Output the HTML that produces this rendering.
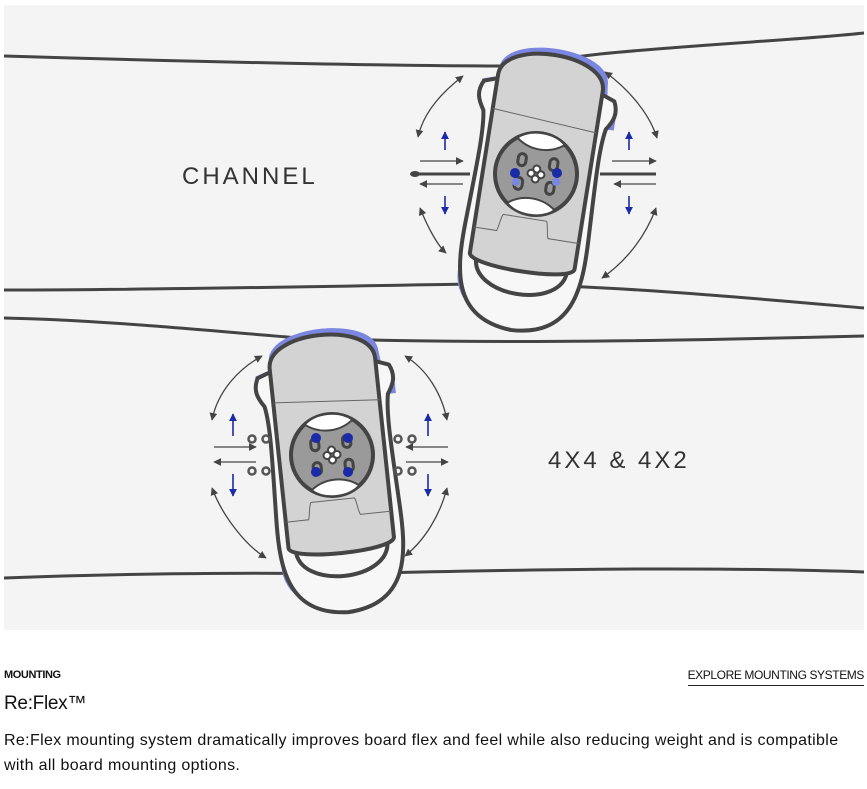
<!DOCTYPE html>
<html><head><meta charset="utf-8"><style>
body{margin:0;background:#fff;width:867px;height:789px;overflow:hidden;font-family:"Liberation Sans",sans-serif;color:#111}
.t1{position:absolute;left:4px;top:669px;font-size:11px;font-weight:bold;letter-spacing:-0.4px}
.t2{position:absolute;right:3px;top:668px;font-size:12px;border-bottom:1px solid #222;padding-bottom:3px;letter-spacing:-0.4px}
.t3{position:absolute;left:4px;top:693px;font-size:19px;letter-spacing:-0.3px}
.t4{position:absolute;left:4px;top:728px;font-size:16px;line-height:25px;width:860px;letter-spacing:0.35px}
</style></head><body>
<svg width="867" height="640" style="position:absolute;left:0;top:0">
<defs>
<marker id="ah" viewBox="0 0 10 10" refX="9" refY="5" markerWidth="6" markerHeight="6" orient="auto-start-reverse"><path d="M0,0L10,5L0,10z" fill="#444"/></marker>
<marker id="bh" viewBox="0 0 10 10" refX="9" refY="5" markerWidth="5" markerHeight="5" orient="auto"><path d="M0,0L10,5L0,10z" fill="#1a2aa8"/></marker>
<g id="bind">
 <path d="M-55,-95 C-55,-132 55,-132 55,-95 L58,-70 L-58,-70z" fill="#7b86e0" transform="translate(2,-4)"/>
 <path d="M-68,-86 L-55,-90 L-55,-70 L-68,-70z M62,-78 L70,-74 L70,-55 L62,-55z" fill="#7b86e0"/>
 <path d="M-55,100 C-58,160 55,160 52,100" fill="none" stroke="#7b86e0" stroke-width="8" transform="translate(-3,4)"/>
 <path d="M-55,-88 L-66,-84 C-72,-72 -68,-64 -62,-55 C-58,-35 -60,0 -62,55 C-64,105 -62,155 0,158 C62,155 64,105 62,55 C60,0 58,-35 62,-55 C68,-64 72,-72 66,-84 L55,-88 Z" fill="#f7f7f7" stroke="#444" stroke-width="4" stroke-linejoin="round"/>
 <path d="M-46,90 C-48,132 48,132 46,90" fill="#f7f7f7" stroke="#444" stroke-width="4"/>
 <path d="M-53,-92 C-53,-130 53,-130 53,-92 L53,88 C53,102 -53,102 -53,88 Z" fill="#d3d3d3" stroke="#444" stroke-width="4"/>
 <line x1="-53" y1="-58" x2="53" y2="-50" stroke="#666" stroke-width="1"/>
 <path d="M-53,62 L-30,62 C-28,55 -28,48 -26,45 L18,45 C20,50 20,58 22,62 L53,62" fill="none" stroke="#666" stroke-width="1"/>
 <circle cx="0" cy="0" r="41" fill="#9a9a9a" stroke="#444" stroke-width="4"/>
 <path d="M-24,-33 C-10,-22 10,-22 24,-33 C12,-44 -12,-44 -24,-33z M-24,33 C-10,22 10,22 24,33 C12,44 -12,44 -24,33z" fill="#fff" stroke="#444" stroke-width="2"/>
 <g fill="none" stroke="#444" stroke-width="3"><rect x="-20" y="-18" width="8" height="12" rx="4"/><rect x="12" y="-18" width="8" height="12" rx="4"/><rect x="-20" y="6" width="8" height="12" rx="4"/><rect x="12" y="6" width="8" height="12" rx="4"/></g>
 <g fill="#fff" stroke="#444" stroke-width="2"><circle cx="0" cy="-5" r="3.5"/><circle cx="0" cy="5" r="3.5"/><circle cx="-5" cy="0" r="3.5"/><circle cx="5" cy="0" r="3.5"/></g>
</g>
</defs>
<rect x="4" y="5" width="860" height="625" fill="#f4f4f4"/>
<path d="M4,56 C200,62 400,66 500,66 L600,54 C700,44 800,40 864,33" fill="none" stroke="#444" stroke-width="3"/>
<path d="M4,290 C150,290 350,286 470,284 C600,284 750,298 864,308" fill="none" stroke="#444" stroke-width="3"/>
<path d="M4,318 C100,320 200,330 300,338 C500,345 700,340 864,336" fill="none" stroke="#444" stroke-width="3"/>
<path d="M4,578 C100,574 250,572 330,574 C500,570 700,566 864,572" fill="none" stroke="#444" stroke-width="3"/>
<line x1="414" y1="174" x2="470" y2="174" stroke="#444" stroke-width="3"/>
<ellipse cx="415" cy="174" rx="5" ry="3" fill="#444"/>
<line x1="600" y1="174" x2="656" y2="174" stroke="#444" stroke-width="3"/>
<use href="#bind" transform="translate(536,174) rotate(9)"/>
<g fill="#1a2aa8"><circle cx="515" cy="173" r="5"/><circle cx="557" cy="173" r="5"/></g>
<g fill="#7b86e0"><circle cx="516" cy="182" r="4"/><circle cx="556" cy="182" r="4"/></g>
<g stroke="#444" stroke-width="1.3" fill="none">
<path d="M418,137 C424,110 445,90 463,76" marker-start="url(#ah)" marker-end="url(#ah)"/>
<path d="M420,208 C428,228 438,246 446,253" marker-start="url(#ah)" marker-end="url(#ah)"/>
<path d="M605,72 C630,90 650,115 657,138" marker-start="url(#ah)" marker-end="url(#ah)"/>
<path d="M656,208 C645,238 625,262 602,278" marker-start="url(#ah)" marker-end="url(#ah)"/>
<path d="M420,161 L463,161" marker-end="url(#ah)"/><path d="M463,184 L420,184" marker-end="url(#ah)"/>
<path d="M612,161 L656,161" marker-end="url(#ah)"/><path d="M656,184 L614,184" marker-end="url(#ah)"/>
</g>
<g stroke="#1a2aa8" stroke-width="1.6"><path d="M445,150 L445,132" marker-end="url(#bh)"/><path d="M445,196 L445,214" marker-end="url(#bh)"/><path d="M629,150 L629,132" marker-end="url(#bh)"/><path d="M629,196 L629,214" marker-end="url(#bh)"/></g>
<text x="182" y="184" font-family="Liberation Sans, sans-serif" font-size="24" letter-spacing="3" fill="#333">CHANNEL</text>
<use href="#bind" transform="translate(332,455) rotate(-6)"/>
<g fill="#1a2aa8"><circle cx="316" cy="438" r="5"/><circle cx="348" cy="438" r="5"/><circle cx="316" cy="472" r="5"/><circle cx="348" cy="472" r="5"/></g>
<g fill="none" stroke="#555" stroke-width="2.5"><circle cx="252" cy="439" r="3.5"/><circle cx="266" cy="439" r="3.5"/><circle cx="252" cy="471" r="3.5"/><circle cx="266" cy="471" r="3.5"/><circle cx="398" cy="439" r="3.5"/><circle cx="412" cy="439" r="3.5"/><circle cx="398" cy="471" r="3.5"/><circle cx="412" cy="471" r="3.5"/></g>
<g stroke="#444" stroke-width="1.3" fill="none">
<path d="M212,420 C218,390 240,368 262,356" marker-start="url(#ah)" marker-end="url(#ah)"/>
<path d="M212,488 C222,515 245,545 266,558" marker-start="url(#ah)" marker-end="url(#ah)"/>
<path d="M405,356 C428,370 442,395 447,420" marker-start="url(#ah)" marker-end="url(#ah)"/>
<path d="M447,488 C440,515 425,540 405,556" marker-start="url(#ah)" marker-end="url(#ah)"/>
<path d="M214,447 L256,447" marker-end="url(#ah)"/><path d="M256,462 L214,462" marker-end="url(#ah)"/>
<path d="M448,447 L406,447" marker-end="url(#ah)"/><path d="M406,462 L448,462" marker-end="url(#ah)"/>
</g>
<g stroke="#1a2aa8" stroke-width="1.6"><path d="M233,436 L233,414" marker-end="url(#bh)"/><path d="M233,474 L233,496" marker-end="url(#bh)"/><path d="M428,436 L428,414" marker-end="url(#bh)"/><path d="M428,474 L428,496" marker-end="url(#bh)"/></g>
<text x="548" y="468" font-family="Liberation Sans, sans-serif" font-size="24" letter-spacing="3" fill="#333">4X4 &amp; 4X2</text>
</svg>
<div class="t1">MOUNTING</div>
<div class="t2">EXPLORE MOUNTING SYSTEMS</div>
<div class="t3">Re:Flex™</div>
<div class="t4">Re:Flex mounting system dramatically improves board flex and feel while also reducing weight and is compatible with all board mounting options.</div>
</body></html>
